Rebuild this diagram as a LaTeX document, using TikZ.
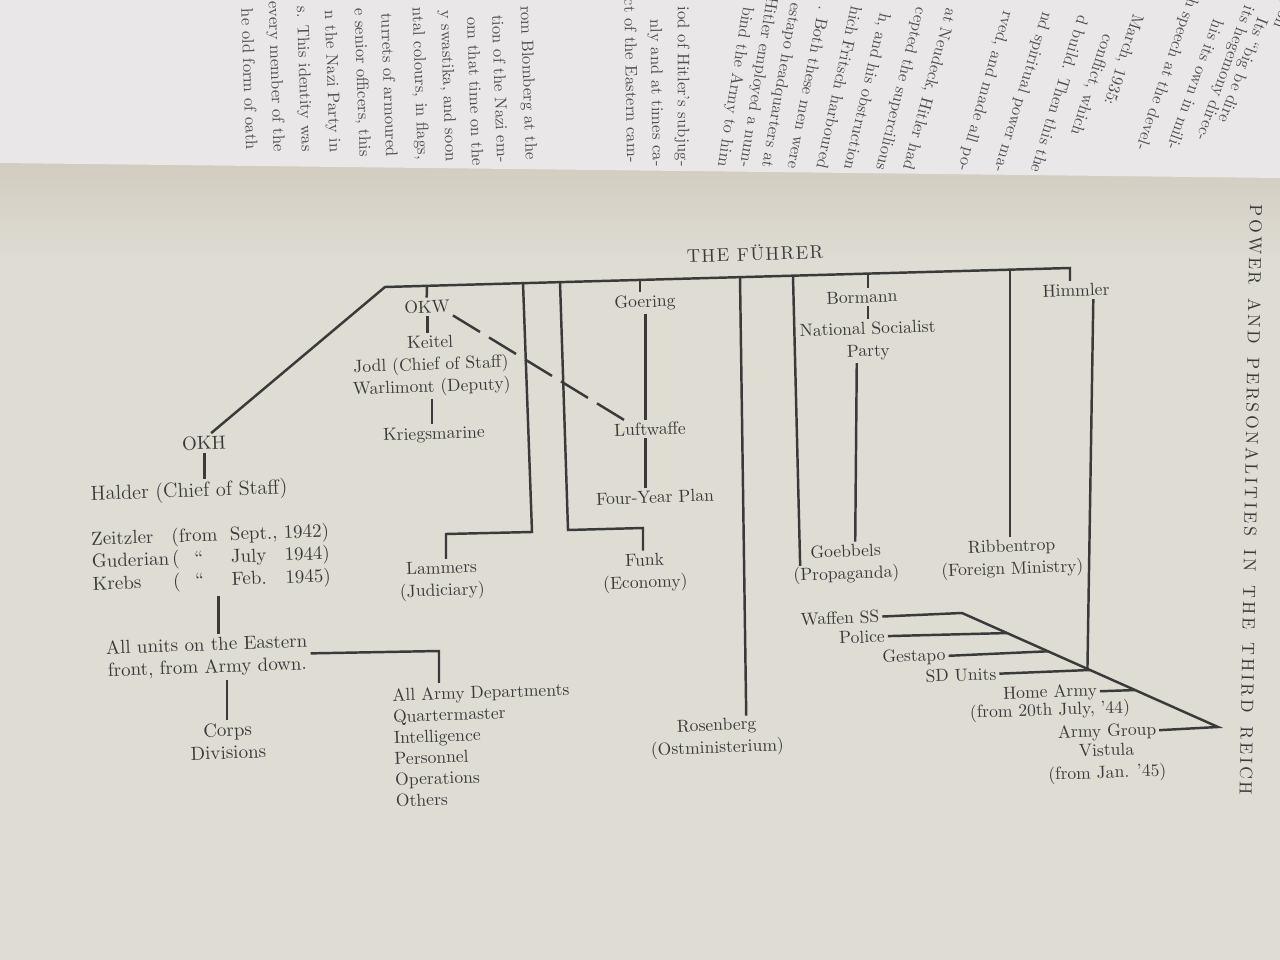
\documentclass[tikz,border=0pt]{standalone}
\usepackage{fontspec}
\usetikzlibrary{calc}
\definecolor{pagecol}{RGB}{222,220,211}
\definecolor{facecol}{RGB}{233,231,232}
\definecolor{foldcol}{RGB}{210,204,192}
\definecolor{ink}{RGB}{58,58,58}
\definecolor{faceink}{RGB}{78,76,78}
\renewcommand\arraystretch{1}
\newcommand\headkern{\kern1.6pt}
\newcommand\headgap{\hspace{7.8pt}}
\newcommand\fuhkern{\kern0.8pt}

\begin{document}
\begin{tikzpicture}[x=0.2mm,y=-0.2mm,
    lbl/.style={inner sep=1.5pt,text=ink,align=center,rotate=2,
      font=\fontsize{10}{12.6}\selectfont},
    lblbig/.style={lbl,font=\fontsize{10.8}{12.8}\selectfont},
    facetext/.style={inner sep=0,text=faceink,anchor=east,
      font=\fontsize{9.5}{11}\selectfont},
    wire/.style={draw=ink,line width=1.4pt},
    dashwire/.style={wire,dash pattern=on 18pt off 6pt}]
  \useasboundingbox (0,0) rectangle (1280,960);
  \fill[pagecol] (0,0) rectangle (1280,960);
  \shade[top color=foldcol,bottom color=pagecol] (0,160) rectangle (1280,260);
  \fill[facecol] (0,0) -- (1280,0) -- (1280,178) -- (0,163) -- cycle;

  \begin{scope}
    \clip (0,0) -- (1280,0) -- (1280,178) -- (0,163) -- cycle;
    \node[facetext,rotate=-88] (fpa1) at (252,150) {he old form of oath};
    \node[facetext,rotate=-88] (fpa2) at (278,152) {every member of the};
    \node[facetext,rotate=-88] (fpa3) at (306,152) {s. This identity was};
    \node[facetext,rotate=-88] (fpa4) at (334,153) {n the Nazi Party in};
    \node[facetext,rotate=-88] (fpa5) at (364,157) {e senior officers, this};
    \node[facetext,rotate=-88] (fpa6) at (392,157) {turrets of armoured};
    \node[facetext,rotate=-88] (fpa7) at (422,160) {ntal colours, in flags,};
    \node[facetext,rotate=-88] (fpa8) at (450,162) {y swastika, and soon};
    \node[facetext,rotate=-88] (fpa9) at (478,166) {om that time on the};
    \node[facetext,rotate=-88] (fpa10) at (503,163) {tion of the Nazi em-};
    \node[facetext,rotate=-88] (fpa11) at (530,160) {rom Blomberg at the};
    \node[facetext,rotate=-89] (fpa12) at (633,163) {ct of the Eastern cam-};
    \node[facetext,rotate=-89] (fpa13) at (657,167) {nly and at times ca-};
    \node[facetext,rotate=-90] (fpa14) at (682,167) {iod of Hitler's subjug-};
    \node[facetext,rotate=-99] (fpb1) at (722,167) {bind the Army to him};
    \node[facetext,rotate=-99] (fpb2) at (744,168) {Hitler employed a num-};
    \node[facetext,rotate=-100] (fpb3) at (766,168) {estapo headquarters at};
    \node[facetext,rotate=-101] (fpb4) at (793,169) {. Both these men were};
    \node[facetext,rotate=-102] (fpb5) at (822,169) {hich Fritsch harboured};
    \node[facetext,rotate=-103] (fpb6) at (848,170) {h, and his obstruction};
    \node[facetext,rotate=-104] (fpb7) at (880,170) {cepted the supercilious};
    \node[facetext,rotate=-105] (fpb8) at (907,170) {at Neudeck, Hitler had};
    \node[facetext,rotate=-106] (fpc1) at (962,171) {rved, and made all po-};
    \node[facetext,rotate=-107] (fpc2) at (998,172) {nd spiritual power ma-};
    \node[facetext,rotate=-107] (fpc3) at (1036,173) {d build. Then this the};
    \node[facetext,rotate=-108] (fpc4) at (1075,135) {conflict, which};
    \node[facetext,rotate=-108] (fpc5) at (1108,105) {March, 1935:};
    \node[facetext,rotate=-109] (fpc6) at (1140,150) {h speech at the devel-};
    \node[facetext,rotate=-110] (fpc7) at (1172,150) {his its own in mili-};
    \node[facetext,rotate=-110] (fpc8) at (1200,140) {its hegemony direc-};
    \node[facetext,rotate=-111] (fpc9) at (1222,122) {Its ``big be dire};
    \node[facetext,rotate=-112] (fpc10) at (1277,28) {bling on};
  \end{scope}

  \node[text=ink,inner sep=0,rotate=-91,font=\fontsize{10}{12}\selectfont]
    (runhead) at (1251,500) {P\headkern O\headkern W\headkern E\headkern R\headgap
      A\headkern N\headkern D\headgap
      P\headkern E\headkern R\headkern S\headkern O\headkern N\headkern A\headkern L\headkern I\headkern T\headkern I\headkern E\headkern S\headgap
      I\headkern N\headgap T\headkern H\headkern E\headgap
      T\headkern H\headkern I\headkern R\headkern D\headgap
      R\headkern E\headkern I\headkern C\headkern H};

  \node[lbl,font=\fontsize{10.5}{12}\selectfont]
    (fuhrer) at (755,253) {T\fuhkern H\fuhkern E\fuhkern\ F\fuhkern Ü\fuhkern H\fuhkern R\fuhkern E\fuhkern R};
  \node[lbl] (okw) at (427,307) {OKW};
  \node[lbl] (keitel) at (431,366) {Keitel\\Jodl (Chief of Staff)\\Warlimont (Deputy)};
  \node[lbl] (kriegs) at (434,435) {Kriegsmarine};
  \node[lbl] (goering) at (645,303) {Goering};
  \node[lbl] (luftw) at (650,429) {Luftwaffe};
  \node[lbl] (fyp) at (655,497) {Four-Year Plan};
  \node[lbl] (lammers) at (442,581) {Lammers\\(Judiciary)};
  \node[lbl] (funk) at (645,573) {Funk\\(Economy)};
  \node[lbl] (rosen) at (717,738) {Rosenberg\\(Ostministerium)};
  \node[lbl] (bormann) at (862,297) {Bormann};
  \node[lbl] (nsp) at (868,341) {National Socialist\\Party};
  \node[lbl] (goebbels) at (846,564) {Goebbels\\(Propaganda)};
  \node[lbl] (ribben) at (1012,559) {Ribbentrop\\(Foreign Ministry)};
  \node[lbl] (himmler) at (1076,290) {Himmler};
  \node[lbl] (waffen) at (840,618) {Waffen SS};
  \node[lbl] (police) at (862,637) {Police};
  \node[lbl] (gestapo) at (914,657) {Gestapo};
  \node[lbl] (sdunits) at (961,675) {SD Units};
  \node[lbl] (homearmy) at (1050,693) {Home Army};
  \node[lbl] (homefrom) at (1050,711) {(from 20th July, '44)};
  \node[lbl] (agroup) at (1107,732) {Army Group};
  \node[lbl] (vistula) at (1107,763) {Vistula\\(from Jan. '45)};

  \node[lblbig] (okh) at (204,443) {OKH};
  \node[lblbig,font=\fontsize{11.6}{13}\selectfont] (halder) at (189,492) {Halder (Chief of Staff)};
  \node[lblbig] (zeitz) at (211,559) {\begin{tabular}{@{}l@{\,}l@{}c@{\ \ }l@{\ }l@{}}
    Zeitzler & ( & from & Sept., & 1942)\\
    Guderian & ( & `` & July & 1944)\\
    Krebs & ( & `` & Feb. & 1945)
  \end{tabular}};
  \node[lblbig] (units) at (207,657) {All units on the Eastern\\front, from Army down.};
  \node[lblbig] (corps) at (228,741) {Corps\\Divisions};
  \node[lbl,anchor=north west,align=left,font=\fontsize{10}{12}\selectfont]
    (depts) at (389,686) {All Army Departments\\Quartermaster\\Intelligence\\Personnel\\Operations\\Others};

  \coordinate (barL) at (385,287);
  \coordinate (barR) at (1070,268);
  \coordinate (tOKW) at (427,286);
  \coordinate (tLam) at (523,283);
  \coordinate (lamA) at (532,532);
  \coordinate (lamB) at (446,534);
  \coordinate (tFunk) at (560,282);
  \coordinate (funkA) at (568,530);
  \coordinate (funkB) at (643,528);
  \coordinate (tGoer) at (640,280);
  \coordinate (tRos) at (740,277);
  \coordinate (tGoeb) at (793,276);
  \coordinate (tBor) at (868,274);
  \coordinate (tRib) at (1010,270);
  \coordinate (ssTop) at (962,613);
  \coordinate (ssTip) at (1218,727);
  \coordinate (depA) at (439,651);

  \draw[wire] ([xshift=1.5mm]okh.north) -- (barL) -- (barR) -- (barR |- himmler.north);
  \draw[wire] (tOKW) -- (okw.north);
  \draw[wire] (okw.south) -- (okw.south |- keitel.north);
  \draw[wire] (keitel.south) -- (keitel.south |- kriegs.north);
  \draw[dashwire] (okw.south east) -- ([xshift=3mm]luftw.north west);
  \draw[wire] (tLam) -- (lamA) -- (lamB) -- (lamB |- lammers.north);
  \draw[wire] (tFunk) -- (funkA) -- (funkB) -- (funkB |- funk.north);
  \draw[wire] (tGoer) -- (tGoer |- goering.north);
  \draw[wire] (goering.south) -- (goering.south |- luftw.north);
  \draw[wire] (goering.south |- luftw.south) -- (goering.south |- fyp.north);
  \draw[wire] (tRos) -- ([xshift=6mm]rosen.north);
  \draw[wire] (tGoeb) -- ([xshift=2mm]goebbels.west);
  \draw[wire] (tBor) -- (tBor |- bormann.north);
  \draw[wire] (tBor |- bormann.south) -- (tBor |- nsp.north);
  \draw[wire] ([xshift=-2.4mm]nsp.south) -- ([xshift=2mm]goebbels.north);
  \draw[wire] (tRib) -- (tRib |- ribben.north);
  \draw[wire] ([xshift=3.4mm]himmler.south) -- ($(ssTop)!.49!(ssTip)$);
  \draw[wire] (waffen.east) -- (ssTop) -- (ssTip) -- (agroup.east);
  \draw[wire] (police.east) -- ($(ssTop)!.176!(ssTip)$);
  \draw[wire] (gestapo.east) -- ($(ssTop)!.336!(ssTip)$);
  \draw[wire] (sdunits.east) -- ($(ssTop)!.5!(ssTip)$);
  \draw[wire] (homearmy.east) -- ($(ssTop)!.676!(ssTip)$);
  \draw[wire] (okh.south) -- (okh.south |- halder.north);
  \draw[wire] ([xshift=1.2mm]zeitz.south) -- ([xshift=1.2mm]zeitz.south |- units.north);
  \draw[wire] (units.east) -- (depA) -- (depA |- depts.north);
  \draw[wire] (units.south -| corps.north) -- (corps.north);
\end{tikzpicture}
\end{document}
